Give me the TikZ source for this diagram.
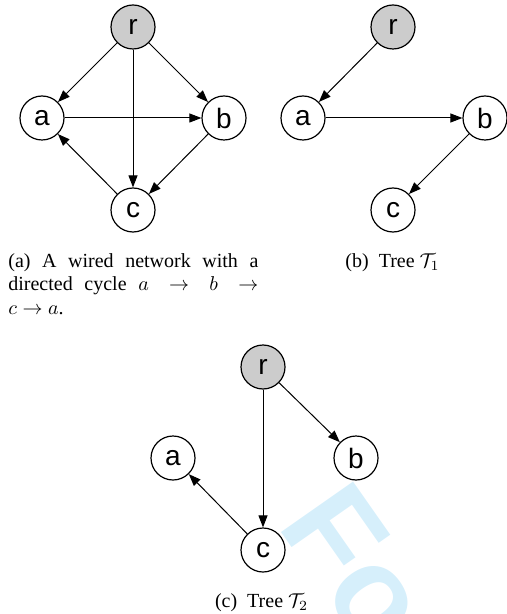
\documentclass[tikz,border=0pt]{standalone}
\usepackage{fontspec}
\setmainfont{Liberation Serif}
\newfontfamily\nodefont{Liberation Sans}
\newfontfamily\wmfont{Liberation Sans}
\usetikzlibrary{arrows.meta}
\definecolor{rgray}{RGB}{204,204,204}
\definecolor{wmcol}{RGB}{214,239,251}
\begin{document}
\begin{tikzpicture}[x=0.5pt,y=-0.5pt,
  vtx/.style={circle,draw=black,line width=0.6pt,fill=white,minimum size=22pt,inner sep=0pt,font=\nodefont\fontsize{14}{14}\selectfont},
  root/.style={vtx,fill=rgray},
  arr/.style={line width=0.5pt,-{Triangle[length=6pt,width=4.5pt]}},
  captxt/.style={font=\fontsize{10}{11.7}\selectfont,inner sep=0pt}]
\useasboundingbox (0,0) rectangle (507,614);
\begin{scope}
\clip (0,0) rectangle (507,614);
\node[text=wmcol,font=\wmfont\bfseries\fontsize{64}{64}\selectfont,rotate=-55,anchor=base west,inner sep=0pt] (wmark) at (276,525) {For};
\end{scope}
% (a)
\node[root] (ar) at (133,27) {r};
\node[vtx] (aa) at (42,118) {a};
\node[vtx] (ab) at (224,118) {b};
\node[vtx] (ac) at (133,210) {c};
\draw[arr] (ar) -- (aa);
\draw[arr] (ar) -- (ab);
\draw[arr] (ar) -- (ac);
\draw[arr] (aa) -- (ab);
\draw[arr] (ab) -- (ac);
\draw[arr] (ac) -- (aa);
% (b)
\node[root] (br) at (393,27) {r};
\node[vtx] (ba) at (303,118) {a};
\node[vtx] (bb) at (485,118) {b};
\node[vtx] (bc) at (393,210) {c};
\draw[arr] (br) -- (ba);
\draw[arr] (ba) -- (bb);
\draw[arr] (bb) -- (bc);
% (c)
\node[root] (cr) at (263,367) {r};
\node[vtx] (ca) at (173,458) {a};
\node[vtx] (cb) at (356,458) {b};
\node[vtx] (cc) at (263,550) {c};
\draw[arr] (cr) -- (cc);
\draw[arr] (cr) -- (cb);
\draw[arr] (cc) -- (ca);
% captions
\node[captxt,text width=125pt,align=justify,anchor=north west] (capa) at (8,253)
  {(a) A wired network with a directed cycle $a\rightarrow b\rightarrow$\linebreak $c\rightarrow a$.};
\node[captxt,anchor=base] (capb) at (392.5,268) {(b)\hspace{5pt}Tree $\mathcal{T}_1$};
\node[captxt,anchor=base] (capc) at (261.5,607) {(c)\hspace{5pt}Tree $\mathcal{T}_2$};
\end{tikzpicture}
\end{document}
